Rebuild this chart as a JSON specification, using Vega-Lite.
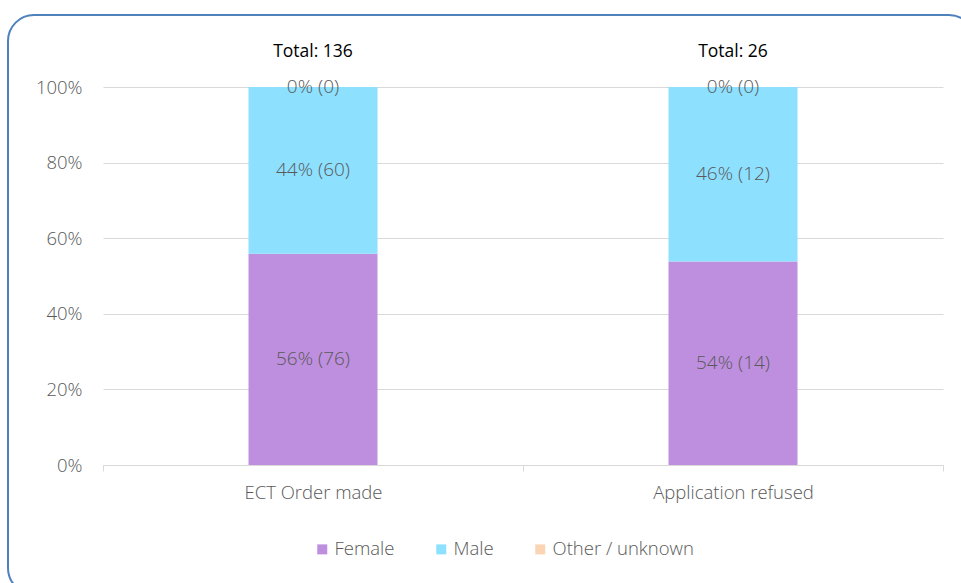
{
  "$schema": "https://vega.github.io/schema/vega-lite/v6.json",
  "width": 840,
  "height": 378,
  "autosize": {"type": "none"},
  "padding": {"left": 103, "top": 87, "right": 18, "bottom": 118},
  "background": "white",
  "config": {"view": {"stroke": null}, "font": "Open Sans"},
  "datasets": {
    "gender": [
      {"outcome": "ECT Order made", "gender": "Female", "count": 76, "label": "56% (76)", "ord": 1},
      {"outcome": "ECT Order made", "gender": "Male", "count": 60, "label": "44% (60)", "ord": 2},
      {"outcome": "ECT Order made", "gender": "Other / unknown", "count": 0, "label": "0% (0)", "ord": 3},
      {"outcome": "Application refused", "gender": "Female", "count": 14, "label": "54% (14)", "ord": 1},
      {"outcome": "Application refused", "gender": "Male", "count": 12, "label": "46% (12)", "ord": 2},
      {"outcome": "Application refused", "gender": "Other / unknown", "count": 0, "label": "0% (0)", "ord": 3}
    ],
    "totals": [
      {"outcome": "ECT Order made", "total": "Total: 136"},
      {"outcome": "Application refused", "total": "Total: 26"}
    ]
  },
  "layer": [
    {
      "data": {"name": "gender"},
      "transform": [
        {"stack": "count", "groupby": ["outcome"], "sort": [{"field": "ord", "order": "ascending"}], "offset": "normalize", "as": ["y0", "y1"]},
        {"calculate": "(datum.y0 + datum.y1) / 2", "as": "ymid"}
      ],
      "layer": [
        {
          "mark": {"type": "bar", "strokeWidth": 0, "width": 129},
          "encoding": {
            "x": {
              "field": "outcome", "type": "nominal",
              "scale": {"domain": ["ECT Order made", "Application refused"], "paddingInner": 0, "paddingOuter": 0},
              "axis": {"title": null, "labelAngle": 0, "labelFontSize": 18.5, "labelFontWeight": 300, "labelColor": "#595959", "labelPadding": 12, "domainColor": "#d9d9d9", "tickColor": "#d9d9d9", "tickSize": 6, "tickBand": "extent", "grid": false}
            },
            "y": {
              "field": "y0", "type": "quantitative",
              "scale": {"domain": [0, 1]},
              "axis": {"title": null, "format": ".0%", "values": [0, 0.2, 0.4, 0.6, 0.8, 1], "domain": false, "ticks": false, "labelPadding": 21, "labelFontSize": 18.5, "labelFontWeight": 300, "labelColor": "#595959", "gridColor": "#d9d9d9"}
            },
            "y2": {"field": "y1"},
            "color": {
              "field": "gender", "type": "nominal",
              "scale": {"domain": ["Female", "Male", "Other / unknown"], "range": ["#BF8FDF", "#8DE0FE", "#FBD4B4"]},
              "legend": {"title": null, "orient": "none", "legendX": 210, "legendY": 453, "direction": "horizontal", "symbolType": "square", "symbolSize": 100, "symbolStrokeWidth": 0, "labelFontSize": 18.5, "labelFontWeight": 300, "labelColor": "#595959", "columnPadding": 37, "labelOffset": 3}
            },
            "stroke": {
              "field": "count", "type": "quantitative",
              "scale": {"range": ["rgba(0,0,0,0)", "rgba(0,0,0,0)"]},
              "legend": {"type": "gradient", "title": null, "orient": "none", "legendX": -95, "legendY": -72, "direction": "horizontal", "gradientLength": 967, "gradientThickness": 578, "labelExpr": "''", "labelOpacity": 0, "labelFontSize": 1, "labelOffset": 0, "padding": 0, "strokeColor": "#4F81BD", "cornerRadius": 26, "gradientStrokeWidth": 0, "encode": {"legend": {"update": {"strokeWidth": {"value": 2}}}}}
            }
          }
        },
        {
          "mark": {"type": "text", "fontSize": 19, "fontWeight": 300, "color": "#595959"},
          "encoding": {
            "x": {"field": "outcome", "type": "nominal"},
            "y": {"field": "ymid", "type": "quantitative"},
            "text": {"field": "label"}
          }
        }
      ]
    },
    {
      "data": {"name": "totals"},
      "mark": {"type": "text", "fontSize": 17.5, "fontWeight": 400, "color": "#000000", "font": "Open Sans", "dy": -35},
      "encoding": {
        "x": {"field": "outcome", "type": "nominal"},
        "y": {"datum": 1, "type": "quantitative"},
        "text": {"field": "total"}
      }
    }
  ]
}
